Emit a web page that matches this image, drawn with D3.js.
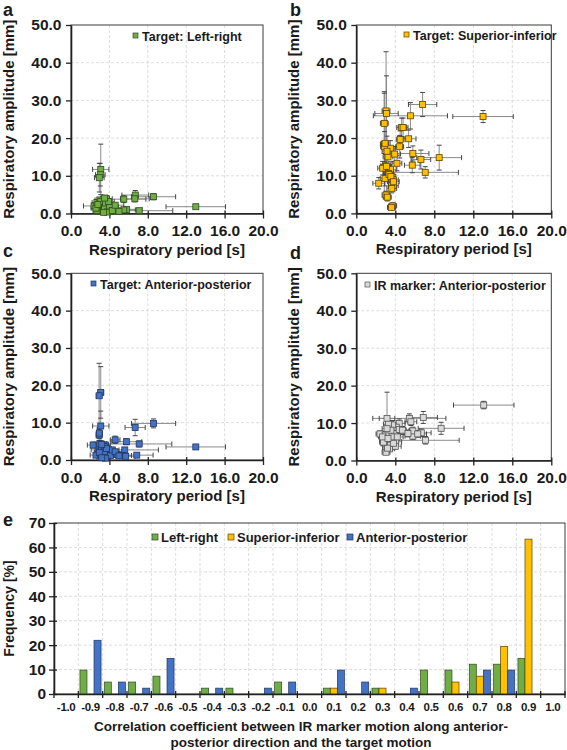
<!DOCTYPE html>
<html><head><meta charset="utf-8">
<script src="https://cdn.jsdelivr.net/npm/d3@7"></script>
<style>
body{margin:0;background:#fff;}
svg text{font-family:"Liberation Sans",Arial,sans-serif;font-weight:bold;fill:#1a1a1a;}
</style></head>
<body>
<svg id="chart" width="567" height="750"></svg>
<script>
// ---------- DATA ----------
const periodTicks = [0, 4, 8, 12, 16, 20];
const ampTicks = [0, 10, 20, 30, 40, 50];

// Panel a: Target Left-right
const periodA = [3.1,3.05,2.95,2.4,2.7,3.0,3.7,3.0,3.2,2.9,3.7,3.9,4.4,4.8,5.5,6.7,6.65,8.6,13.0,7.1,5.8,5.5,3.4,2.7,4.05,3.3,3.5,4.2,3.8,4.6,3.1,2.6,3.6,4.0,5.0,3.4,4.3,2.8,3.9,3.5,4.6];
const periodErrA = [0.85,0.5,0.5,1.1,0.5,0.5,0.6,0.4,0.5,0.4,0.6,0.5,0.8,1.0,2.3,1.4,1.5,2.3,3.1,3.5,1.6,1.2,0.5,0.4,0.6,0.6,0.5,0.7,0.6,0.7,0.4,0.5,0.5,0.5,0.9,0.5,0.6,0.5,0.6,0.4,0.9];
const ampA = [11.7,10.3,9.5,2.0,2.9,3.6,3.9,1.7,0.7,0.6,2.2,1.2,0.9,0.7,3.8,4.9,3.9,4.45,1.8,0.75,1.1,0.95,0.9,0.8,0.5,2.6,1.5,1.8,0.4,1.3,3.2,1.4,2.8,2.0,0.6,0.3,0.8,2.4,3.2,4.1,2.2];
const ampErrA = [6.7,3.0,3.8,0.8,0.8,0.6,0.7,0.5,0.3,0.3,0.6,0.4,0.3,0.3,0.9,1.2,0.8,0.8,0.5,0.4,0.4,0.3,0.3,0.3,0.2,0.5,0.4,0.5,0.2,0.4,0.6,0.4,0.6,0.5,0.3,0.2,0.3,0.6,0.7,0.7,0.5];

// Panel b: Target Superior-inferior
const periodB = [3.05,3.1,5.55,6.8,13.0,2.87,4.65,4.8,4.5,5.37,4.45,2.87,2.9,3.5,5.8,3.25,3.94,8.5,6.63,4.17,5.74,7.07,3.0,2.7,3.5,3.3,3.8,3.8,2.3,2.95,3.64,3.05,3.18,3.73,3.6,2.95,3.36,3.55,3.8,3.15,3.1];
const periodErrB = [0.4,1.2,3.8,1.45,3.1,0.4,0.5,0.5,0.4,0.75,0.4,0.4,0.4,0.5,1.65,0.5,0.6,2.3,1.0,0.5,0.8,3.4,0.5,0.5,0.6,0.5,0.5,0.5,0.6,0.5,0.5,0.4,0.4,0.4,0.4,0.4,0.5,0.5,0.6,0.5,0.5];
const ampB = [27.2,26.5,25.9,28.9,25.7,23.9,22.8,22.8,19.6,19.8,17.7,18.3,17.7,17.3,15.9,15.0,15.75,14.8,14.3,13.3,12.8,10.9,12.6,12.0,11.7,10.6,8.9,7.4,8.0,9.3,6.65,4.9,4.3,2.0,1.6,18.6,10.3,9.8,8.4,16.5,12.5];
const ampErrB = [15.7,10.0,3.5,3.2,1.6,8.0,2.5,2.5,2.3,2.3,3.0,14.0,4.0,2.0,2.0,3.0,2.0,3.3,2.5,2.0,2.0,1.5,3.0,1.8,2.0,1.5,1.5,1.2,1.5,2.0,1.2,1.0,1.0,0.8,0.6,6.0,2.0,1.5,1.0,4.0,2.0];

// Panel c: Target Anterior-posterior
const periodC = [3.1,2.93,3.1,6.68,8.6,13.0,2.93,4.6,5.77,7.1,5.6,2.3,3.0,3.36,3.6,2.9,4.0,4.4,4.8,5.3,5.7,6.85,2.6,3.05,3.65,3.35,3.8,4.2,3.2,3.45,3.5,2.95,4.1,4.3,3.7,3.2,4.6,5.0,3.6,3.2,2.95];
const periodErrC = [0.3,0.3,0.85,1.05,2.3,3.1,0.3,0.5,1.6,3.4,3.5,0.6,0.5,0.5,0.5,0.4,0.6,0.7,0.8,1.0,1.0,1.7,0.6,0.5,0.5,0.5,0.5,0.6,0.5,0.5,0.5,0.5,0.6,0.7,0.5,0.5,0.7,0.8,0.5,0.5,0.3];
const ampC = [18.1,17.2,9.1,8.7,9.8,3.5,6.7,5.4,4.9,4.3,2.7,4.0,4.3,2.7,4.0,2.4,2.2,1.5,1.5,1.2,1.0,1.3,1.3,1.5,1.2,0.9,1.8,2.4,3.1,3.6,2.2,2.0,1.2,2.7,3.1,4.2,2.2,1.1,0.5,0.6,7.2];
const ampErrC = [6.9,8.7,4.0,2.2,1.2,0.6,1.5,1.0,0.8,0.8,0.6,0.8,0.8,0.6,0.8,0.6,0.5,0.4,0.4,0.4,0.3,0.4,0.4,0.4,0.4,0.3,0.5,0.6,0.7,0.8,0.5,0.5,0.4,0.6,0.7,0.9,0.5,0.4,0.2,0.2,1.5];

// Panel d: IR marker Anterior-posterior
const periodD = [13.07,3.15,6.87,8.7,5.44,5.6,7.1,6.67,5.8,5.8,4.4,4.8,4.1,3.73,3.3,2.43,2.96,3.36,3.9,4.4,2.9,3.33,3.7,4.05,3.05,3.5,4.0,3.4,3.05,3.2,2.8,3.67,4.2,4.75,3.55,3.15,5.3,2.7,3.8,3.25,6.3];
const periodErrD = [3.1,0.8,1.45,2.35,3.75,0.6,3.45,1.0,0.8,0.7,0.6,0.6,0.5,0.5,0.5,0.4,0.5,0.5,0.6,0.6,0.5,0.5,0.6,0.6,0.5,0.5,0.6,0.5,0.4,0.5,0.4,0.5,0.6,0.7,0.5,0.5,0.8,0.4,0.5,0.5,0.9];
const ampD = [14.8,11.25,11.5,8.6,11.25,10.35,5.4,7.4,6.5,7.9,9.9,7.9,8.9,9.5,9.7,7.1,6.8,7.2,7.2,8.3,5.5,5.3,5.7,5.0,4.4,4.1,3.8,3.1,2.2,3.3,4.9,6.3,6.3,8.1,8.1,8.5,7.2,6.3,4.6,5.9,7.1];
const ampErrD = [1.0,7.0,1.6,1.6,1.2,1.0,1.0,1.0,0.9,1.0,1.2,1.0,1.0,1.2,1.0,0.8,0.9,0.9,0.9,1.0,0.8,0.8,0.8,0.7,0.7,0.7,0.7,0.6,0.5,0.6,0.8,0.9,0.9,1.0,1.0,1.0,0.9,0.8,0.7,0.8,0.9];

// Panel e: histogram
const corrCategories = ["-1.0","-0.9","-0.8","-0.7","-0.6","-0.5","-0.4","-0.3","-0.2","-0.1","0.0","0.1","0.2","0.3","0.4","0.5","0.6","0.7","0.8","0.9","1.0"];
const freqLeftRight   = [0,9.8,4.9,4.9,7.3,0,2.4,2.4,0,4.9,0,2.4,0,2.4,0,9.8,9.8,12.2,12.2,14.6,0];
const freqSupInf      = [0,0,0,0,0,0,0,0,0,0,0,2.4,0,2.4,0,0,4.9,7.3,19.5,63.4,0];
const freqAntPost     = [0,22.0,4.9,2.4,14.6,0,2.4,0,2.4,4.9,0,9.8,4.9,0,2.4,0,0,9.8,9.8,0,0];
const freqTicks = [0,10,20,30,40,50,60,70];
const seriesNames = ["Left-right","Superior-inferior","Anterior-posterior"];

// ---------- DRAW ----------
const svg = d3.select("#chart");
const fmt1 = d3.format(".1f");

function scatterPanel(cfg){
  const {l,r,t,b,px,pxe,py,pye,fill,stroke,legend,legendX,legendY,label,labelX,labelY,ytitleX} = cfg;
  const x = d3.scaleLinear().domain([0,20]).range([l,r]);
  const y = d3.scaleLinear().domain([0,50]).range([b,t]);
  const g = svg.append("g");
  // grid
  g.append("g").selectAll("line").data(periodTicks.slice(1,-1)).join("line")
    .attr("x1",d=>x(d)).attr("x2",d=>x(d)).attr("y1",t).attr("y2",b)
    .attr("stroke","#d4d4d4").attr("stroke-dasharray","3,2").attr("stroke-width",0.8);
  g.append("g").selectAll("line").data(ampTicks.slice(1,-1)).join("line")
    .attr("y1",d=>y(d)).attr("y2",d=>y(d)).attr("x1",l).attr("x2",r)
    .attr("stroke","#d4d4d4").attr("stroke-dasharray","3,2").attr("stroke-width",0.8);
  // frame
  g.append("rect").attr("x",l).attr("y",t).attr("width",r-l).attr("height",b-t)
    .attr("fill","none").attr("stroke","#3a3a3a").attr("stroke-width",1);
  // axes
  const xa = g.append("g").attr("transform",`translate(0,${b})`)
    .call(d3.axisBottom(x).tickValues(periodTicks).tickFormat(fmt1).tickSize(5).tickSizeOuter(0));
  xa.select(".domain").attr("stroke","#222").attr("stroke-width",1.6);
  xa.selectAll(".tick line").attr("stroke","#222").attr("stroke-width",1.3).attr("y1",-3);
  xa.selectAll("text").attr("font-size",15.5).attr("dy","0.95em").attr("fill","#1a1a1a");
  const ya = g.append("g").attr("transform",`translate(${l},0)`)
    .call(d3.axisLeft(y).tickValues(ampTicks).tickFormat(fmt1).tickSize(5).tickSizeOuter(0));
  ya.select(".domain").attr("stroke","#222").attr("stroke-width",1.6);
  ya.selectAll(".tick line").attr("stroke","#222").attr("stroke-width",1.3);
  ya.selectAll("text").attr("font-size",15.5).attr("dx","-0.1em").attr("fill","#1a1a1a");
  // titles
  g.append("text").attr("x",(l+r)/2).attr("y",b+41).attr("text-anchor","middle")
    .attr("font-size",15).text("Respiratory period [s]");
  g.append("text").attr("transform",`translate(${ytitleX},${(t+b)/2}) rotate(-90)`)
    .attr("text-anchor","middle").attr("font-size",15).text("Respiratory amplitude [mm]");
  // error bars
  const idx = d3.range(px.length);
  const eb = g.append("g").attr("stroke-width",1);
  const cap = 2.5;
  eb.selectAll(".hx").data(idx).join("line")
    .attr("x1",i=>x(px[i]-pxe[i])).attr("x2",i=>x(px[i]+pxe[i]))
    .attr("y1",i=>y(py[i])).attr("y2",i=>y(py[i])).attr("stroke","#8a8a8a");
  eb.selectAll(".vy").data(idx).join("line").attr("class","vy")
    .attr("x1",i=>x(px[i])).attr("x2",i=>x(px[i]))
    .attr("y1",i=>y(Math.max(0,py[i]-pye[i]))).attr("y2",i=>y(py[i]+pye[i])).attr("stroke","#8a8a8a");
  // caps
  [-1,1].forEach(s=>{
    eb.append("g").selectAll("line").data(idx).join("line")
      .attr("x1",i=>x(px[i]+s*pxe[i])).attr("x2",i=>x(px[i]+s*pxe[i]))
      .attr("y1",i=>y(py[i])-cap).attr("y2",i=>y(py[i])+cap).attr("stroke","#444");
    eb.append("g").selectAll("line").data(idx.filter(i=>s>0 || py[i]-pye[i]>0)).join("line")
      .attr("y1",i=>y(py[i]+s*pye[i])).attr("y2",i=>y(py[i]+s*pye[i]))
      .attr("x1",i=>x(px[i])-cap).attr("x2",i=>x(px[i])+cap).attr("stroke","#444");
  });
  // markers
  const ms = 6;
  g.append("g").selectAll("rect").data(idx).join("rect")
    .attr("x",i=>x(px[i])-ms/2).attr("y",i=>y(py[i])-ms/2)
    .attr("width",ms).attr("height",ms).attr("fill",fill).attr("stroke",stroke).attr("stroke-width",0.8);
  // legend
  g.append("rect").attr("x",legendX).attr("y",legendY-8).attr("width",5).attr("height",5)
    .attr("fill",fill).attr("stroke",stroke).attr("stroke-width",0.7);
  g.append("text").attr("x",legendX+9).attr("y",legendY).attr("font-size",12.5).text(legend);
  // panel label
  svg.append("text").attr("x",labelX).attr("y",labelY).attr("font-size",18).text(label);
}

scatterPanel({l:71,r:263,t:25,b:213.5,px:periodA,pxe:periodErrA,py:ampA,pye:ampErrA,
  fill:"#70ad47",stroke:"#2f4a1e",legend:"Target: Left-right",legendX:133,legendY:41,
  label:"a",labelX:3,labelY:16,ytitleX:14});
scatterPanel({l:356.3,r:551.3,t:25,b:213.4,px:periodB,pxe:periodErrB,py:ampB,pye:ampErrB,
  fill:"#ffc000",stroke:"#5a4400",legend:"Target: Superior-inferior",legendX:404,legendY:40,
  label:"b",labelX:290,labelY:16,ytitleX:299});
scatterPanel({l:71,r:263,t:273.3,b:460,px:periodC,pxe:periodErrC,py:ampC,pye:ampErrC,
  fill:"#4472c4",stroke:"#1f3560",legend:"Target: Anterior-posterior",legendX:91,legendY:289,
  label:"c",labelX:3,labelY:257,ytitleX:14});
scatterPanel({l:356.3,r:551.3,t:273.3,b:460.5,px:periodD,pxe:periodErrD,py:ampD,pye:ampErrD,
  fill:"#d9d9d9",stroke:"#555",legend:"IR marker: Anterior-posterior",legendX:365,legendY:290,
  label:"d",labelX:290,labelY:259,ytitleX:299});

// ---------- Panel e ----------
(function(){
  const l=54, r=565, t=523, b=694;
  const x = d3.scaleBand().domain(corrCategories).range([l,r]).padding(0);
  const xs = d3.scaleBand().domain(seriesNames).range([0,x.bandwidth()]).paddingInner(0).paddingOuter(0.23);
  const y = d3.scaleLinear().domain([0,70]).range([b,t]);
  const g = svg.append("g");
  const bounds = corrCategories.map(c=>x(c)).concat([r]);
  g.append("g").selectAll("line").data(bounds.slice(1,-1)).join("line")
    .attr("x1",d=>d).attr("x2",d=>d).attr("y1",t).attr("y2",b)
    .attr("stroke","#d4d4d4").attr("stroke-dasharray","3,2").attr("stroke-width",0.8);
  g.append("g").selectAll("line").data(freqTicks.slice(1,-1)).join("line")
    .attr("y1",d=>y(d)).attr("y2",d=>y(d)).attr("x1",l).attr("x2",r)
    .attr("stroke","#d4d4d4").attr("stroke-dasharray","3,2").attr("stroke-width",0.8);
  g.append("rect").attr("x",l).attr("y",t).attr("width",r-l).attr("height",b-t)
    .attr("fill","none").attr("stroke","#3a3a3a").attr("stroke-width",1);
  const colors = {"Left-right":"#70ad47","Superior-inferior":"#ffc000","Anterior-posterior":"#4472c4"};
  const strokes = {"Left-right":"#2f4a1e","Superior-inferior":"#5a4400","Anterior-posterior":"#1f3560"};
  const vals = {"Left-right":freqLeftRight,"Superior-inferior":freqSupInf,"Anterior-posterior":freqAntPost};
  seriesNames.forEach(s=>{
    const data = corrCategories.map((c,i)=>({c,v:vals[s][i]})).filter(d=>d.v>0);
    g.append("g").selectAll("rect").data(data).join("rect")
      .attr("x",d=>x(d.c)+xs(s)).attr("width",xs.bandwidth())
      .attr("y",d=>y(d.v)).attr("height",d=>b-y(d.v))
      .attr("fill",colors[s]).attr("stroke",strokes[s]).attr("stroke-width",0.7);
  });
  // x axis
  const xa = g.append("g").attr("transform",`translate(0,${b})`)
    .call(d3.axisBottom(x).tickSize(0).tickSizeOuter(0));
  xa.select(".domain").attr("stroke","#222").attr("stroke-width",1.6);
  xa.selectAll("text").attr("font-size",11.5).attr("letter-spacing","-0.3px")
    .attr("dy","1.25em").attr("fill","#1a1a1a");
  g.append("g").selectAll("line").data(bounds).join("line")
    .attr("x1",d=>d).attr("x2",d=>d).attr("y1",b-3).attr("y2",b+4)
    .attr("stroke","#222").attr("stroke-width",1.3);
  const ya = g.append("g").attr("transform",`translate(${l},0)`)
    .call(d3.axisLeft(y).tickValues(freqTicks).tickSize(5).tickSizeOuter(0));
  ya.select(".domain").attr("stroke","#222").attr("stroke-width",1.6);
  ya.selectAll(".tick line").attr("stroke","#222").attr("stroke-width",1.3).attr("x1",3);
  ya.selectAll("text").attr("font-size",15.5).attr("fill","#1a1a1a");
  g.append("text").attr("transform",`translate(14,${(t+b)/2}) rotate(-90)`)
    .attr("text-anchor","middle").attr("font-size",14).text("Frequency [%]");
  g.append("text").attr("x",301).attr("y",731).attr("text-anchor","middle").attr("font-size",13.5)
    .text("Correlation coefficient between IR marker motion along anterior-");
  g.append("text").attr("x",301).attr("y",747).attr("text-anchor","middle").attr("font-size",13.5)
    .text("posterior direction and the target motion");
  // legend
  const lx = [152,228,347];
  seriesNames.forEach((s,i)=>{
    g.append("rect").attr("x",lx[i]).attr("y",534).attr("width",6).attr("height",6)
      .attr("fill",colors[s]).attr("stroke",strokes[s]).attr("stroke-width",0.7);
    g.append("text").attr("x",lx[i]+9).attr("y",542).attr("font-size",13).text(s);
  });
  svg.append("text").attr("x",3).attr("y",526).attr("font-size",18).text("e");
})();
</script>
</body></html>
